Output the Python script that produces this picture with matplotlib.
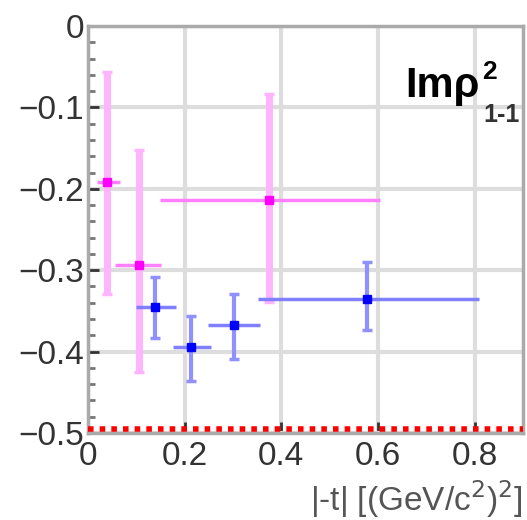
import matplotlib
matplotlib.use("Agg")
import matplotlib.pyplot as plt
from matplotlib.ticker import MultipleLocator

plt.rcParams['font.family'] = ['Liberation Sans', 'DejaVu Sans']

# pontos magenta
t_mag = [0.0385, 0.106, 0.375]
t_mag_lo = [0.018, 0.056, 0.148]
t_mag_hi = [0.066, 0.152, 0.605]
rho_mag = [-0.192, -0.294, -0.214]
rho_mag_top = [-0.056, -0.152, -0.083]
rho_mag_bot = [-0.329, -0.425, -0.339]

# pontos azuis
t_az = [0.138, 0.214, 0.303, 0.578]
t_az_lo = [0.100, 0.175, 0.248, 0.351]
t_az_hi = [0.183, 0.255, 0.355, 0.808]
rho_az = [-0.345, -0.394, -0.367, -0.335]
rho_az_top = [-0.308, -0.356, -0.329, -0.290]
rho_az_bot = [-0.383, -0.436, -0.409, -0.374]

limite = -0.495

W, H = 527, 520
fig = plt.figure(figsize=(W / 100, H / 100), dpi=100)
ax = fig.add_axes([88 / W, 1 - 433 / H, (523 - 88) / W, (433 - 26) / H])

def barras(t, lo, hi, y, top, bot, cor, cor_v, cor_h, lw_v, lw_h):
    yerr = [[a - b for a, b in zip(y, bot)], [b - a for a, b in zip(y, top)]]
    xerr = [[a - b for a, b in zip(t, lo)], [b - a for a, b in zip(t, hi)]]
    ax.errorbar(t, y, yerr=yerr, fmt='none', ecolor=cor_v, elinewidth=lw_v,
                capsize=3.5, capthick=2.5, zorder=3)
    ax.errorbar(t, y, xerr=xerr, fmt='none', ecolor=cor_h, elinewidth=lw_h,
                capsize=0, zorder=4)
    ax.plot(t, y, 's', color=cor, ms=6, zorder=5)

barras(t_mag, t_mag_lo, t_mag_hi, rho_mag, rho_mag_top, rho_mag_bot,
       "#ff00ff", "#ffb4ff", "#ff80ff", 5, 2.5)
barras(t_az, t_az_lo, t_az_hi, rho_az, rho_az_top, rho_az_bot,
       "#0000ff", "#9090ff", "#8080ff", 3, 2.5)

ax.axhline(limite, color="red", linestyle=(0, (1, 1.1)), linewidth=4, zorder=6)

ax.set_xlim(0, 0.9)
ax.set_ylim(-0.5, 0)
ax.yaxis.set_minor_locator(MultipleLocator(0.02))
ax.grid(True, color="#dddddd", linewidth=3)
ax.set_axisbelow(True)
ax.tick_params(direction="in", labelsize=24, colors="#333333", length=8, width=2, pad=3)
ax.tick_params(which="minor", direction="in", length=5, width=2, colors="#777777")
ax.tick_params(axis="x", pad=6)
ax.set_yticks([0, -0.1, -0.2, -0.3, -0.4, -0.5])
ax.set_yticklabels(["0", "\u22120.1", "\u22120.2", "\u22120.3", "\u22120.4", "\u22120.5"])
ax.set_xticks([0, 0.2, 0.4, 0.6, 0.8])
ax.set_xticklabels(["0", "0.2", "0.4", "0.6", "0.8"])
for s in ax.spines.values():
    s.set_color("#aaaaaa")
    s.set_linewidth(2.5)

# título no canto
fig.text(405 / W, 1 - 97 / H, "Im\u03c1", fontsize=30, fontweight="bold",
         ha="left", va="baseline", color="black")
fig.text(482 / W, 1 - 79 / H, "2", fontsize=19, fontweight="bold",
         ha="left", va="baseline", color="black")
fig.text(483 / W, 1 - 122 / H, "1-1", fontsize=18, fontweight="bold",
         ha="left", va="baseline", color="#333333")

fig.text(523 / W, 1 - 499 / H, r"|-t| [(GeV/c$^{\mathsf{2}}$)$^{\mathsf{2}}$]", fontsize=24,
         ha="right", va="center", color="#555555")

plt.savefig("out.png", dpi=100)
